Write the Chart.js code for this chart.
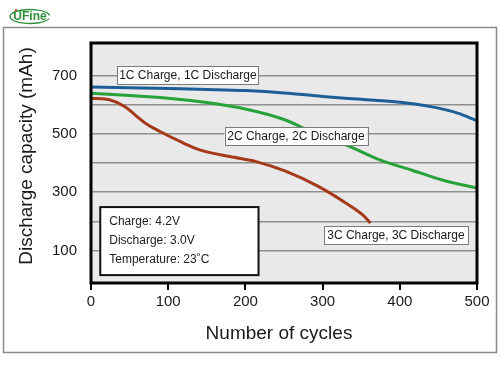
<!DOCTYPE html>
<html>
<head>
<meta charset="utf-8">
<script src="https://cdn.jsdelivr.net/npm/chart.js@4.4.1/dist/chart.umd.min.js"></script>
<style>
html,body{margin:0;padding:0;background:#fff;}
#wrap{width:500px;height:380px;position:relative;}
</style>
</head>
<body>
<div id="wrap"><canvas id="c" width="500" height="380"></canvas></div>
<script>
// ---- data ----
const cycles1C = [0, 50, 100, 150, 200, 250, 300, 350, 400, 440, 475, 500];
const capacity1C = [660, 658, 655, 652, 648, 640, 628, 618, 608, 593, 571, 545];
const cycles2C = [0, 50, 100, 150, 200, 250, 300, 330, 375, 415, 455, 500];
const capacity2C = [639, 631, 622, 607, 585, 549, 489, 462, 410, 376, 342, 314];
const cycles3C = [0, 25, 44, 57, 70, 90, 116, 141, 180, 215, 252, 295, 330, 352, 362];
const capacity3C = [622, 616, 593, 565, 537, 507, 473, 445, 422, 404, 372, 319, 263, 222, 194];
const seriesLabels = ['1C Charge, 1C Discharge', '2C Charge, 2C Discharge', '3C Charge, 3C Discharge'];
const xTicks = [0, 100, 200, 300, 400, 500];
const yGridValues = [100, 200, 300, 400, 500, 600, 700];
const yTickLabels = [100, 300, 500, 700];
const conditionLines = ['Charge: 4.2V', 'Discharge: 3.0V', 'Temperature: 23\u02DAC'];
const xTitle = 'Number of cycles';
const yTitle = 'Discharge capacity (mAh)';

const FONT = '"Liberation Sans", Arial, sans-serif';

function pts(xs, ys){ return xs.map((x,i)=>({x:x,y:ys[i]})); }

// annotation boxes in data units: [x0, x1, yCenter]
const seriesBoxes = [
  {x0:34, x1:217, y:700},
  {x0:173, x1:358, y:492},
  {x0:302, x1:488, y:153}
];
const infoBox = {x0:12, x1:217, yTop:249, yBottom:16};

const decor = {
  id:'decor',
  beforeDraw(chart){
    const {ctx, chartArea:a} = chart;
    ctx.save();
    ctx.fillStyle='#fff';
    ctx.fillRect(0,0,chart.width,chart.height);
    // outer frame
    ctx.strokeStyle='#8a8a8a';
    ctx.lineWidth=1.5;
    ctx.strokeRect(3.5,27.5,493,325);
    // plot background
    ctx.fillStyle='#e9e9e9';
    ctx.fillRect(a.left,a.top,a.right-a.left,a.bottom-a.top);
    // logo
    ctx.strokeStyle='#2f8f3c';
    ctx.lineWidth=1.3;
    ctx.beginPath();
    ctx.ellipse(30,16.5,20,7,0,Math.PI*0.1,Math.PI*1.95);
    ctx.stroke();
    ctx.fillStyle='#2f8f3c';
    ctx.font='bold 12px '+FONT;
    ctx.textBaseline='middle';
    ctx.textAlign='center';
    ctx.fillText('UFine',30,17);
    ctx.fillStyle='#e8562a';
    ctx.fillRect(15,9,2,2);
    ctx.restore();
  },
  afterDatasetsDraw(chart){
    const {ctx, chartArea:a, scales} = chart;
    const xs=scales.x, ys=scales.y;
    ctx.save();
    // series label boxes
    ctx.font='12px '+FONT;
    ctx.textBaseline='middle';
    ctx.textAlign='center';
    seriesBoxes.forEach((b,i)=>{
      const x0=xs.getPixelForValue(b.x0), x1=xs.getPixelForValue(b.x1);
      const yc=ys.getPixelForValue(b.y);
      ctx.fillStyle='#fff';
      ctx.fillRect(x0,yc-9,x1-x0,18);
      ctx.strokeStyle='#7a7a7a';
      ctx.lineWidth=1;
      ctx.strokeRect(Math.round(x0)+0.5,Math.round(yc-9)+0.5,Math.round(x1-x0),18);
      ctx.fillStyle='#1a1a1a';
      ctx.fillText(seriesLabels[i],(x0+x1)/2,yc+0.5);
    });
    // info box
    const ix0=xs.getPixelForValue(infoBox.x0), ix1=xs.getPixelForValue(infoBox.x1);
    const iy0=ys.getPixelForValue(infoBox.yTop), iy1=ys.getPixelForValue(infoBox.yBottom);
    ctx.fillStyle='#fff';
    ctx.fillRect(ix0,iy0,ix1-ix0,iy1-iy0);
    ctx.strokeStyle='#111';
    ctx.lineWidth=2;
    ctx.strokeRect(ix0,iy0,ix1-ix0,iy1-iy0);
    ctx.fillStyle='#222';
    ctx.textAlign='left';
    conditionLines.forEach((t,i)=>{
      ctx.fillText(t, ix0+9, iy0+15+i*19);
    });
    // plot border
    ctx.strokeStyle='#000';
    ctx.lineWidth=3;
    ctx.strokeRect(a.left,a.top,a.right-a.left,a.bottom-a.top);
    // axis titles
    ctx.fillStyle='#1a1a1a';
    ctx.font='19px '+FONT;
    ctx.textAlign='center';
    ctx.textBaseline='middle';
    ctx.fillText(xTitle, 279, 334);
    ctx.translate(27,156);
    ctx.rotate(-Math.PI/2);
    ctx.fillText(yTitle,0,0);
    ctx.restore();
  }
};

const lineStyle = {borderWidth:3, pointRadius:0, fill:false, cubicInterpolationMode:'monotone'};

new Chart(document.getElementById('c'), {
  type:'line',
  data:{
    datasets:[
      Object.assign({label:seriesLabels[0], data:pts(cycles1C,capacity1C), borderColor:'#1c5f98'}, lineStyle),
      Object.assign({label:seriesLabels[1], data:pts(cycles2C,capacity2C), borderColor:'#27a23a'}, lineStyle),
      Object.assign({label:seriesLabels[2], data:pts(cycles3C,capacity3C), borderColor:'#a53a1b'}, lineStyle)
    ]
  },
  options:{
    responsive:false,
    animation:false,
    devicePixelRatio:1,
    layout:{padding:{left:0,top:43,right:23,bottom:0}},
    plugins:{legend:{display:false}, tooltip:{enabled:false}},
    scales:{
      x:{
        type:'linear', min:0, max:500,
        afterBuildTicks(s){ s.ticks = xTicks.map(v=>({value:v})); },
        afterFit(s){ s.height = 97; },
        border:{display:false},
        grid:{drawOnChartArea:false, drawTicks:true, tickLength:7, color:'#000', lineWidth:2},
        ticks:{font:{family:FONT,size:15}, color:'#1a1a1a', padding:3, maxRotation:0}
      },
      y:{
        type:'linear', min:-11, max:811,
        afterBuildTicks(s){ s.ticks = yGridValues.map(v=>({value:v})); },
        afterFit(s){ s.width = 91; },
        border:{display:false},
        grid:{drawTicks:false, color:'#8f8f8f', lineWidth:1.5},
        ticks:{font:{family:FONT,size:15}, color:'#1a1a1a', padding:14,
          callback:(v)=> yTickLabels.includes(v) ? String(v) : ''}
      }
    }
  },
  plugins:[decor]
});
</script>
</body>
</html>
